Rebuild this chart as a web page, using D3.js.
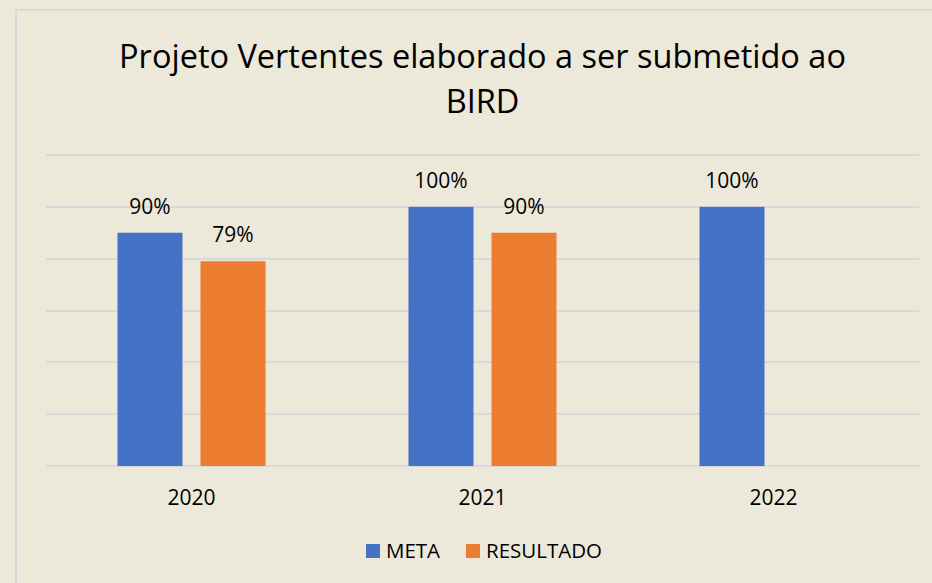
<!doctype html>
<html lang="pt">
<head>
<meta charset="utf-8" />
<title>Projeto Vertentes</title>
<script src="https://cdn.jsdelivr.net/npm/d3@7"></script>
<style>
	body { margin: 0; background: #ECE9DA; }
	svg { display: block; font-family: "Open Sans", sans-serif; }
</style>
</head>
<body>
<svg id="chart" width="932" height="583"></svg>
<script>
	// data
	var years = ["2020", "2021", "2022"];
	var seriesNames = ["META", "RESULTADO"];
	var meta = [0.90, 1.00, 1.00];
	var resultado = [0.79, 0.90, null];
	var seriesColors = ["#4472C4", "#ED7D31"];
	var yTicks = [0, 0.2, 0.4, 0.6, 0.8, 1.0, 1.2];

	var svg = d3.select("#chart");
	var width = +svg.attr("width"), height = +svg.attr("height");

	// outer border of the chart area
	svg.append("rect")
		.attr("x", 16).attr("y", 10)
		.attr("width", width).attr("height", height)
		.attr("fill", "none")
		.attr("stroke", "#D9D9D9")
		.attr("stroke-width", 2);

	var plot = { left: 46, right: 919, top: 155, bottom: 466 };

	var x0 = d3.scaleBand()
		.domain(years)
		.range([plot.left, plot.right]);

	var x1 = d3.scaleBand()
		.domain(seriesNames)
		.range([0, x0.bandwidth()])
		.paddingInner(0.217)
		.paddingOuter(0.861);

	var y = d3.scaleLinear()
		.domain([0, 1.2])
		.range([plot.bottom, plot.top]);

	// gridlines
	svg.append("g")
		.selectAll("line")
		.data(yTicks)
		.join("line")
		.attr("x1", plot.left).attr("x2", plot.right)
		.attr("y1", function (d) { return Math.round(y(d)); })
		.attr("y2", function (d) { return Math.round(y(d)); })
		.attr("stroke", "#D9D9D9")
		.attr("stroke-width", 2);

	// title
	var title = svg.append("text")
		.attr("text-anchor", "middle")
		.attr("font-size", 32.5)
		.attr("fill", "#000");
	title.append("tspan").attr("x", 482.5).attr("y", 68).text("Projeto Vertentes elaborado a ser submetido ao");
	title.append("tspan").attr("x", 482.5).attr("y", 113).text("BIRD");

	// bars
	var rows = [];
	years.forEach(function (yr, i) {
		rows.push({ year: yr, key: "META", value: meta[i], color: seriesColors[0] });
		rows.push({ year: yr, key: "RESULTADO", value: resultado[i], color: seriesColors[1] });
	});
	var present = rows.filter(function (d) { return d.value != null; });

	svg.append("g")
		.selectAll("rect")
		.data(present)
		.join("rect")
		.attr("x", function (d) { return x0(d.year) + x1(d.key); })
		.attr("y", function (d) { return y(d.value); })
		.attr("width", x1.bandwidth())
		.attr("height", function (d) { return y(0) - y(d.value); })
		.attr("fill", function (d) { return d.color; });

	// value labels
	svg.append("g")
		.selectAll("text")
		.data(present)
		.join("text")
		.attr("x", function (d) { return x0(d.year) + x1(d.key) + x1.bandwidth() / 2; })
		.attr("y", function (d) { return y(d.value) - 19; })
		.attr("text-anchor", "middle")
		.attr("font-size", 21)
		.attr("fill", "#000")
		.text(function (d) { return Math.round(d.value * 100) + "%"; });

	// category axis
	var xAxis = svg.append("g")
		.attr("transform", "translate(0," + plot.bottom + ")")
		.call(d3.axisBottom(x0).tickSize(0).tickPadding(0));
	xAxis.select(".domain").remove();
	xAxis.selectAll("text")
		.attr("dy", null)
		.attr("y", 39)
		.attr("font-size", 21)
		.attr("font-family", "Open Sans, sans-serif")
		.attr("fill", "#000");

	// legend
	var legendItems = [
		{ name: seriesNames[0], color: seriesColors[0], x: 366 },
		{ name: seriesNames[1], color: seriesColors[1], x: 466 }
	];
	var lg = svg.append("g").selectAll("g").data(legendItems).join("g")
		.attr("transform", function (d) { return "translate(" + d.x + ",544)"; });
	lg.append("rect").attr("width", 14).attr("height", 14).attr("fill", function (d) { return d.color; });
	lg.append("text").attr("x", 20).attr("y", 13.5).attr("font-size", 20.5).attr("fill", "#000")
		.text(function (d) { return d.name; });
</script>
</body>
</html>
